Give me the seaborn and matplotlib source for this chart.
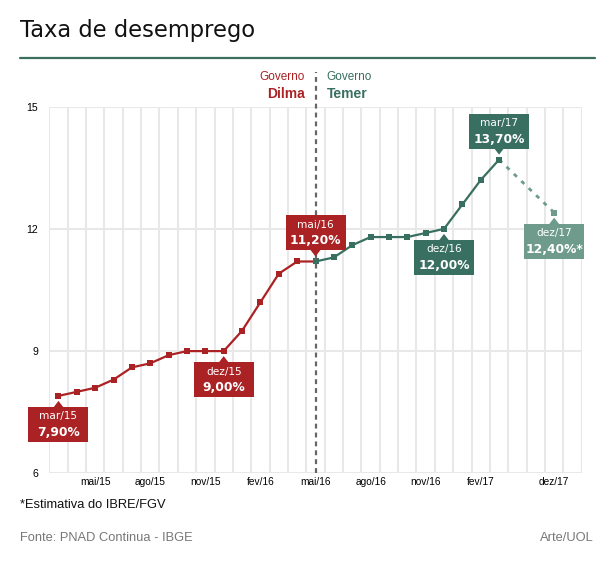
import matplotlib
matplotlib.use("Agg")
import matplotlib.pyplot as plt
import matplotlib.transforms as mtransforms
from matplotlib.patches import Rectangle, Polygon
import pandas as pd
import seaborn as sns

# eixo x: meses (posicoes vazias entre mar/17 e dez/17 ficam em branco)
months = ["mar/15", "abr/15", "mai/15", "jun/15", "jul/15", "ago/15", "set/15",
          "out/15", "nov/15", "dez/15", "jan/16", "fev/16", "mar/16", "abr/16",
          "mai/16", "jun/16", "jul/16", "ago/16", "set/16", "out/16", "nov/16",
          "dez/16", "jan/17", "fev/17", "mar/17", "abr/17", "mai/17", "dez/17", "jan/18"]
tick_months = ["mai/15", "ago/15", "nov/15", "fev/16", "mai/16", "ago/16",
               "nov/16", "fev/17", "dez/17"]

dilma_months = months[:15]
dilma_rate = [7.9, 8.0, 8.1, 8.3, 8.6, 8.7, 8.9, 9.0, 9.0, 9.0, 9.5, 10.2, 10.9, 11.2, 11.2]

temer_months = months[14:25]
temer_rate = [11.2, 11.3, 11.6, 11.8, 11.8, 11.8, 11.9, 12.0, 12.6, 13.2, 13.7]

proj_months = ["mar/17", "dez/17"]
proj_rate = [13.7, 12.4]

# destaques: mes, valor, lado
callout_months = ["mar/15", "dez/15", "mai/16", "dez/16", "mar/17", "dez/17"]
callout_values = [7.9, 9.0, 11.2, 12.0, 13.7, 12.4]
callout_sides = ["below", "below", "above", "below", "above", "below"]
callout_notes = ["", "", "", "", "", "*"]

RED = "#ab2224"
GREEN = "#396f60"
LIGHT = "#6f9b8d"
GRID = "#e8e8e8"

pos = {m: i for i, m in enumerate(months)}

sns.set_theme(style="white")
plt.rcParams["font.family"] = ["DejaVu Sans"]

fig = plt.figure(figsize=(6.15, 5.62), dpi=100)
W, H = 615, 562
ax = fig.add_axes([49.3 / W, 1 - 473.3 / H, (581.7 - 49.3) / W, (473.3 - 106.7) / H])

df_d = pd.DataFrame({"x": [pos[m] for m in dilma_months], "taxa": dilma_rate})
df_t = pd.DataFrame({"x": [pos[m] for m in temer_months], "taxa": temer_rate})
df_p = pd.DataFrame({"x": [pos[m] for m in proj_months], "taxa": proj_rate})

ax.set_xlim(-0.5, len(months) - 0.5)
ax.set_ylim(6, 15)

# grade
for i in range(len(months) + 1):
    ax.axvline(i - 0.5, color=GRID, lw=1.5, zorder=0)
for yv in [6, 9, 12, 15]:
    ax.axhline(yv, color=GRID, lw=1.5, zorder=0)

sns.lineplot(data=df_p, x="x", y="taxa", ax=ax, color=LIGHT, lw=2,
             linestyle=(0, (1.5, 2.2)), marker="s", markersize=5,
             markeredgewidth=0, zorder=3)
sns.lineplot(data=df_d, x="x", y="taxa", ax=ax, color=RED, lw=1.6,
             marker="s", markersize=5, markeredgewidth=0, zorder=4)
sns.lineplot(data=df_t, x="x", y="taxa", ax=ax, color=GREEN, lw=1.6,
             marker="s", markersize=5, markeredgewidth=0, zorder=5)

for s in ax.spines.values():
    s.set_visible(False)
ax.set_xlabel("")
ax.set_ylabel("")
ax.set_xticks([pos[m] for m in tick_months])
ax.set_xticklabels(tick_months, fontsize=7.3, family="Liberation Sans", color="#000000")
ax.set_yticks([6, 9, 12, 15])
ax.set_yticklabels(["6", "9", "12", "15"], fontsize=7.6, family="Liberation Sans",
                   color="#000000")
ax.tick_params(axis="x", length=0, pad=3)
ax.tick_params(axis="y", length=0, pad=8)

# linha de troca de governo
xm = pos["mai/16"]
ax.plot([xm, xm], [6, 15.85], color="#666666", lw=1.6, ls=(0, (2.2, 1.8)),
        clip_on=False, zorder=6)
ax.text(xm - 0.6, 15.72, "Governo", color=RED, fontsize=8.5, ha="right",
        va="center", family="Liberation Sans")
ax.text(xm - 0.6, 15.32, "Dilma", color=RED, fontsize=10, ha="right",
        va="center", fontweight="bold", family="Liberation Sans")
ax.text(xm + 0.6, 15.72, "Governo", color=GREEN, fontsize=8.5, ha="left",
        va="center", family="Liberation Sans")
ax.text(xm + 0.6, 15.32, "Temer", color=GREEN, fontsize=10, ha="left",
        va="center", fontweight="bold", family="Liberation Sans")


def callout(m, v, side, note, color):
    tr = mtransforms.Affine2D() + mtransforms.ScaledTranslation(pos[m], v, ax.transData)
    sg = 1 if side == "above" else -1
    top = 46 if side == "above" else -11
    ax.add_patch(Rectangle((-30, top - 35), 60, 35, transform=tr, color=color,
                           clip_on=False, zorder=8, lw=0))
    ax.add_patch(Polygon([(-5, sg * 11.5), (5, sg * 11.5), (0, sg * 5)], closed=True,
                         transform=tr, color=color, clip_on=False, zorder=8, lw=0))
    ax.text(0, top - 9.5, m, transform=tr, ha="center", va="center", color="white",
            fontsize=7.6, zorder=9)
    label = f"{v:.2f}".replace(".", ",") + "%" + note
    ax.text(0, top - 25.5, label, transform=tr, ha="center", va="center",
            color="white", fontsize=8.8, fontweight="bold", zorder=9)


for m, v, sd, nt in zip(callout_months, callout_values, callout_sides, callout_notes):
    if m == "dez/17":
        c = LIGHT
    elif pos[m] <= pos["mai/16"]:
        c = RED
    else:
        c = GREEN
    callout(m, v, sd, nt, c)

# titulo e rodape
fig.text(20 / W, 1 - 36.5 / H, "Taxa de desemprego", fontsize=16.3, va="baseline",
         ha="left", color="#111111")
fig.add_artist(plt.Line2D([20 / W, 595 / W], [1 - 57.7 / H, 1 - 57.7 / H],
                          color="#3b6e5f", lw=1.6))
fig.text(20 / W, 1 - 505 / H, "*Estimativa do IBRE/FGV", fontsize=9.3, va="center",
         ha="left", color="#111111", family="Liberation Sans")
fig.text(20 / W, 1 - 538 / H, "Fonte: PNAD Continua - IBGE", fontsize=9.3, va="center",
         ha="left", color="#777777", family="Liberation Sans")
fig.text(594 / W, 1 - 538 / H, "Arte/UOL", fontsize=9.3, va="center",
         ha="right", color="#777777", family="Liberation Sans")

fig.savefig("out.png", dpi=100, facecolor="white")
